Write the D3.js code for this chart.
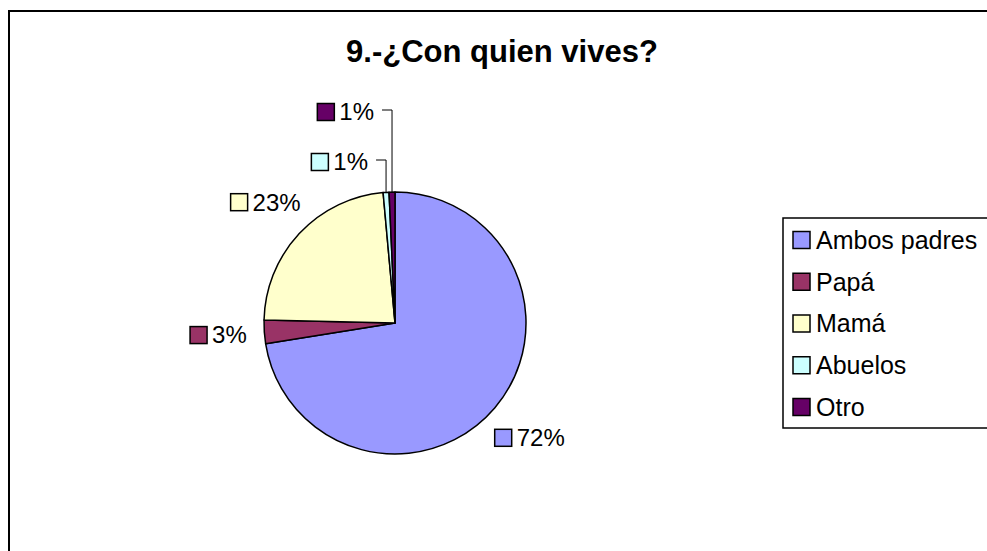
<!DOCTYPE html>
<html>
<head>
<meta charset="utf-8">
<script src="https://cdn.jsdelivr.net/npm/d3@7"></script>
<style>
  body { margin: 0; background: #fff; }
  text { font-family: "Liberation Sans", Arial, sans-serif; }
</style>
</head>
<body>
<div id="chart"></div>
<script>
const title = "9.-¿Con quien vives?";
const categories = ["Ambos padres", "Papá", "Mamá", "Abuelos", "Otro"];
const counts = [100, 4, 32, 1, 1];
const colors = ["#9999FF", "#993366", "#FFFFCC", "#CCFFFF", "#660066"];

const W = 987, H = 551;
const cx = 395, cy = 323, r = 131;

const svg = d3.select("#chart").append("svg")
  .attr("width", W).attr("height", H);

// chart area border (right/bottom run off the page)
svg.append("rect")
  .attr("x", 9).attr("y", 11)
  .attr("width", 1000).attr("height", 600)
  .attr("fill", "none").attr("stroke", "#000").attr("stroke-width", 2);

svg.append("text")
  .attr("x", 502).attr("y", 62)
  .attr("text-anchor", "middle")
  .attr("font-size", 31).attr("font-weight", "bold")
  .text(title);

const total = d3.sum(counts);
const data = categories.map((c, i) => ({ name: c, value: counts[i], color: colors[i] }));

const pie = d3.pie().value(d => d.value).sort(null);
const arcs = pie(data);
const arc = d3.arc().innerRadius(0).outerRadius(r);

const g = svg.append("g").attr("transform", `translate(${cx},${cy})`);

g.selectAll("path.slice")
  .data(arcs)
  .enter()
  .append("path")
  .attr("class", "slice")
  .attr("d", arc)
  .attr("fill", d => d.data.color)
  .attr("stroke", "#000")
  .attr("stroke-width", 1.5)
  .attr("stroke-linejoin", "round");

// data labels
const fmt = d3.format(".0%");
const labelFont = 24, box = 17;
const labelArc = d3.arc().innerRadius(177).outerRadius(177);

let small = 0;
arcs.forEach(d => {
  const share = d.data.value / total;
  const lbl = g.append("g");
  const t = lbl.append("text")
    .attr("x", box + 5).attr("y", 0)
    .attr("dy", "0.35em")
    .attr("font-size", labelFont)
    .text(fmt(share));
  lbl.append("rect")
    .attr("x", 0).attr("y", -box / 2)
    .attr("width", box).attr("height", box)
    .attr("fill", d.data.color)
    .attr("stroke", "#000").attr("stroke-width", 1.5);
  const w = box + 5 + t.node().getComputedTextLength();

  if (share < 0.02) {
    // small slices: stacked above the pie with leader lines
    const mid = (d.startAngle + d.endAngle) / 2;
    const px = r * Math.sin(mid), py = -r * Math.cos(mid);
    const ly = -r - 30 - small * 50;
    lbl.attr("transform", `translate(${px - 18 - w},${ly})`);
    g.append("polyline")
      .attr("points", `${px - 10},${ly - 2} ${px},${ly - 2} ${px},${py}`)
      .attr("fill", "none").attr("stroke", "#000").attr("stroke-width", 1);
    small++;
  } else {
    const [lx, ly] = labelArc.centroid(d);
    lbl.attr("transform", `translate(${lx - w / 2},${ly})`);
  }
});

// legend
const legX = 783, legTop = 218, legStep = 41.75;
svg.append("rect")
  .attr("x", legX).attr("y", legTop)
  .attr("width", 300).attr("height", 210)
  .attr("fill", "#fff").attr("stroke", "#000").attr("stroke-width", 1.5);

const leg = svg.selectAll("g.leg")
  .data(data)
  .enter()
  .append("g")
  .attr("class", "leg")
  .attr("transform", (d, i) => `translate(${legX + 10},${legTop + 22 + i * legStep})`);

leg.append("rect")
  .attr("x", 0).attr("y", -box / 2)
  .attr("width", box).attr("height", box)
  .attr("fill", d => d.color)
  .attr("stroke", "#000").attr("stroke-width", 1.5);

leg.append("text")
  .attr("x", box + 6).attr("dy", "0.35em")
  .attr("font-size", 25)
  .text(d => d.name);
</script>
</body>
</html>
